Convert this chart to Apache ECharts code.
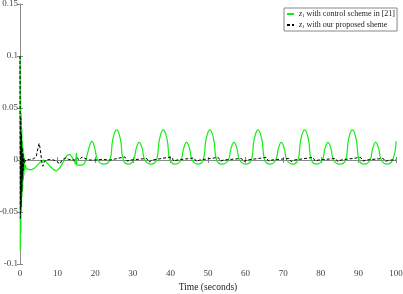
<!DOCTYPE html>
<html>
<head>
<meta charset="utf-8">
<script src="https://cdn.jsdelivr.net/npm/echarts@6/dist/echarts.min.js"></script>
<style>html,body{margin:0;padding:0;background:#fff}#c{width:403px;height:294px}</style>
</head>
<body>
<div id="c"></div>
<script>
// Series names
const seriesNames = ['z1 with control scheme in [21]', 'z1 with our proposed sheme'];

// Green curve: early transient [time, value]
const greenTransient = [
  [0,0.1],[0.08,-0.087],[0.16,0.06],[0.24,-0.07],[0.32,0.045],[0.4,-0.05],[0.48,0.03],
  [0.56,-0.035],[0.64,0.018],[0.72,-0.028],[0.8,0.012],[0.88,-0.02],[0.96,0.006],
  [1.04,-0.015],[1.12,0.002],[1.2,-0.01],[1.4,-0.005],[1.7,-0.0085],[2.2,-0.0095],
  [3,-0.0095],[3.8,-0.008],[4.6,-0.005],[5.4,-0.002],[6.2,0],[7,-0.002],[8,-0.006],
  [9,-0.0095],[9.7,-0.0105],[10.5,-0.008],[11.5,-0.002],[12.4,0.004],[13.2,0.0055],
  [14,0.002],[14.8,-0.004],[15.0,0.007],[15.1,-0.005],[15.4,-0.005],[16.3,-0.005],[17,-0.004]
];

// Green curve: oscillating part [time, value]
const greenPeriodic = [
  [17,-0.004],[17.5,0],[18.3,0.011],[19.1,0.018],[19.9,0.011],[20.7,0],[22.2,-0.004],
  [23.9,0],[24.7,0.02],[25.7,0.029],[26.7,0.02],[27.5,0],[28.9,-0.004],
  [30.2,0],[30.9,0.011],[31.7,0.017],[32.5,0.011],[33.2,0],[34.8,-0.004],
  [36.3,0],[37.1,0.02],[38.1,0.029],[39.1,0.02],[39.9,0],[41.3,-0.004],
  [42.8,0],[43.5,0.011],[44.3,0.017],[45.1,0.011],[45.8,0],[47.4,-0.004],
  [48.7,0],[49.5,0.02],[50.5,0.029],[51.5,0.02],[52.3,0],[53.7,-0.004],
  [55.4,0],[56.1,0.011],[56.9,0.017],[57.7,0.011],[58.4,0],[60,-0.004],
  [61.5,0],[62.3,0.02],[63.3,0.029],[64.3,0.02],[65.1,0],[66.5,-0.004],
  [68,0],[68.7,0.011],[69.5,0.017],[70.3,0.011],[71,0],[72.6,-0.004],
  [73.9,0],[74.7,0.02],[75.7,0.029],[76.7,0.02],[77.5,0],[78.9,-0.004],
  [80.4,0],[81.1,0.011],[81.9,0.017],[82.7,0.011],[83.4,0],[85,-0.004],
  [86.6,0],[87.4,0.02],[88.4,0.029],[89.4,0.02],[90.2,0],[91.6,-0.004],
  [93.1,0],[93.8,0.011],[94.6,0.017],[95.4,0.011],[96.1,0],[97.6,-0.004],
  [99.1,0],[100,0.018]
];

// Black dashed curve [time, value]
const blackData = [
  [0,0.1],[0.1,-0.056],[0.2,0.04],[0.3,-0.045],[0.4,0.025],[0.5,-0.03],[0.6,0.012],
  [0.7,-0.018],[0.8,0.006],[0.9,-0.01],[1.0,0.002],[1.2,-0.003],[1.5,0],[2.5,0.0005],
  [3.5,0.001],[4.3,0.003],[4.8,0.012],[5.1,0.016],[5.4,0.01],[5.8,-0.002],[6.1,-0.006],
  [6.5,-0.001],[7.5,0.0005],[9,0],[10,-0.002],[10.6,-0.004],[11.2,0],[12,0.002],
  [13,0.0005],[14.5,0],[15.2,0.002],[15.8,0],[16.5,0.003],[17,0.004],[17.6,0.001],
  [18.5,0],[20,0],[22,0.0005],[24,0],[27.9,0.003],[28.5,-0.001],[29.5,0],
  [33.7,0.0015],[34.3,-0.002],[35.2,0],[40.3,0.003],[40.9,-0.001],[41.8,0],
  [46.3,0.002],[46.9,-0.0015],[47.8,0],[52.7,0.0025],[53.3,-0.001],[54.2,0],
  [58.9,0.0015],[59.5,-0.0015],[60.4,0],[65.5,0.0025],[66.1,-0.001],[67,0],
  [71.5,0.0015],[72.1,-0.0015],[73,0],[77.9,0.0025],[78.5,-0.001],[79.4,0],
  [83.9,0.0015],[84.5,-0.0015],[85.4,0],[90.6,0.0025],[91.2,-0.001],[92.1,0],
  [96.6,0.0015],[97.2,-0.0015],[98.1,0],[100,0]
];

const FONT = 'Liberation Serif';
const chart = echarts.init(document.getElementById('c'), null, {renderer: 'canvas'});
const axisLine = {show: true, lineStyle: {color: '#8a8a8a', width: 1}};
const axisTick = {show: true, inside: true, length: 3, lineStyle: {color: '#8a8a8a'}};
const labelStyle = {fontFamily: FONT, fontSize: 9, color: '#444'};
const GREEN = '#11ee11';

chart.setOption({
  animation: false,
  grid: {left: 20, right: 7, top: 4, bottom: 30, containLabel: false, outerBoundsMode: 'none'},
  legend: {
    orient: 'vertical', left: 284, top: 8,
    data: seriesNames,
    backgroundColor: '#fff', borderColor: '#888', borderWidth: 1, borderRadius: 0,
    padding: [2, 2, 2, 2], itemGap: 3, itemWidth: 7, itemHeight: 7,
    itemStyle: {opacity: 0},
    formatter: function (name) {
      return name.replace('z1', '{i|z}{s|1}');
    },
    textStyle: {
      fontFamily: FONT, fontSize: 8, color: '#222',
      rich: {
        i: {fontFamily: FONT, fontStyle: 'italic', fontSize: 8, color: '#222'},
        s: {fontFamily: FONT, fontSize: 5, color: '#222', verticalAlign: 'bottom', padding: [3,0,0,0]}
      }
    }
  },
  xAxis: [
    {type: 'value', min: 0, max: 100, interval: 10, position: 'bottom',
     axisLine, axisTick, splitLine: {show: false},
     axisLabel: Object.assign({margin: 5}, labelStyle),
     name: 'Time (seconds)', nameLocation: 'middle', nameGap: 15,
     nameTextStyle: {fontFamily: FONT, fontSize: 9.5, color: '#222'}},
    {type: 'value', min: 0, max: 100, interval: 10, position: 'top',
     axisLine, axisTick, splitLine: {show: false}, axisLabel: {show: false}}
  ],
  yAxis: [
    {type: 'value', min: -0.1, max: 0.15, interval: 0.05, position: 'left',
     axisLine, axisTick, splitLine: {show: false},
     axisLabel: Object.assign({margin: 2, formatter: v => String(+v.toFixed(2))}, labelStyle)},
    {type: 'value', min: -0.1, max: 0.15, interval: 0.05, position: 'right',
     axisLine, axisTick, splitLine: {show: false}, axisLabel: {show: false}}
  ],
  series: [
    {name: seriesNames[0], type: 'line', data: greenTransient, symbol: 'none', smooth: false,
     lineStyle: {color: GREEN, width: 1.2}, itemStyle: {color: GREEN}, z: 2},
    {name: seriesNames[0], type: 'line', data: greenPeriodic, symbol: 'none', smooth: 0.5,
     lineStyle: {color: GREEN, width: 1.2}, itemStyle: {color: GREEN}, z: 2},
    {name: seriesNames[1], type: 'line', data: blackData, symbol: 'none', smooth: false,
     lineStyle: {color: '#000', width: 1, type: [3, 2]}, itemStyle: {color: '#000'}, z: 3}
  ]
});
</script>
</body>
</html>
